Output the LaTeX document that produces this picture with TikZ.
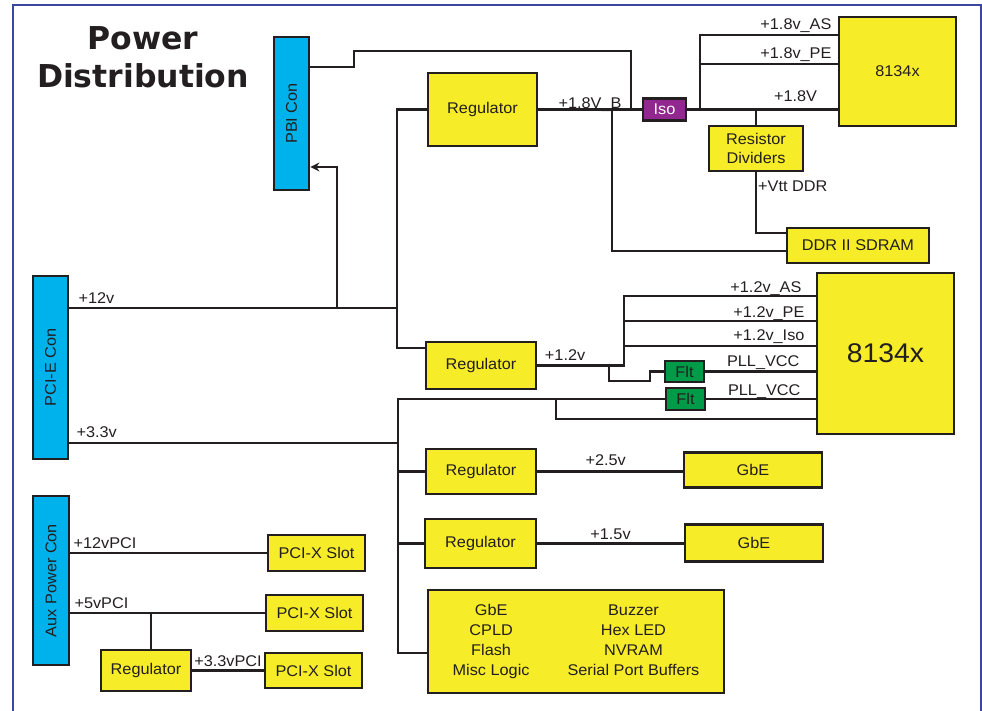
\documentclass[tikz,border=0pt]{standalone}
\usepackage{fontspec}
\setmainfont{Liberation Sans}[FakeStretch=1.05]
\newfontfamily\titlefont{DejaVu Sans}
\usetikzlibrary{arrows.meta}
\definecolor{ink}{RGB}{35,31,32}
\definecolor{chipyel}{RGB}{247,236,40}
\definecolor{conblue}{RGB}{0,178,236}
\definecolor{isopurple}{RGB}{146,39,143}
\definecolor{fltgreen}{RGB}{0,155,72}
\definecolor{framebl}{RGB}{58,70,160}
\tikzset{
  blk/.style={draw=ink, fill=chipyel, line width=2.8pt, inner sep=0pt, text=ink, align=center,
    font=\fontsize{15.5}{18.5}\selectfont},
  con/.style={blk, fill=conblue},
  wire/.style={draw=ink, line width=2.3pt},
  lbl/.style={inner sep=0pt, text=ink, font=\fontsize{15.5}{18.5}\selectfont},
}
\begin{document}
\begin{tikzpicture}[x=1pt, y=-1pt, >={Stealth[length=9pt,width=9pt]}]
\useasboundingbox (0,0) rectangle (982,711);
\draw[framebl, line width=2.5pt] (13,711) -- (13,5) -- (981,5) -- (981,711);
\node[font=\titlefont\bfseries\fontsize{31.5}{38}\selectfont, align=center, text=ink, inner sep=0pt]
  (title) at (143,57) {Power\\Distribution};
% connectors
\node[con, minimum width=35pt, minimum height=153pt] (pbi) at (291.5,113.5) {\rotatebox{90}{PBI Con}};
\node[con, minimum width=35pt, minimum height=183pt] (pcie) at (50.5,367.5) {\rotatebox{90}{PCI-E Con}};
\node[con, minimum width=36pt, minimum height=169pt] (aux) at (51,580.5) {\rotatebox{90}{Aux Power Con}};
% upper half
\node[blk, minimum width=109pt, minimum height=73pt] (regA) at (482.5,109.5) {Regulator};
\node[blk, fill=isopurple, text=white, minimum width=43pt, minimum height=22pt] (iso) at (664.5,109.5) {Iso};
\node[blk, minimum width=117pt, minimum height=109pt] (chipA) at (897.5,71.5) {8134x};
\node[blk, minimum width=94pt, minimum height=45pt] (div) at (756,148.5) {Resistor\\Dividers};
\node[blk, minimum width=142pt, minimum height=35pt] (ddr) at (858,245.5) {DDR II SDRAM};
\node[blk, minimum width=137pt, minimum height=161pt, font=\fontsize{27}{32}\selectfont] (chipB) at (885.5,353.5) {8134x};
\node[blk, minimum width=110pt, minimum height=47pt] (regB) at (481,365.5) {Regulator};
\node[blk, fill=fltgreen, minimum width=39pt, minimum height=21pt] (flt1) at (684.5,371.5) {Flt};
\node[blk, fill=fltgreen, minimum width=39pt, minimum height=22pt] (flt2) at (685.5,399) {Flt};
% lower half
\node[blk, minimum width=110pt, minimum height=45pt] (regC) at (481,471.5) {Regulator};
\node[blk, minimum width=138pt, minimum height=35pt] (gbeA) at (753,470) {GbE};
\node[blk, minimum width=111pt, minimum height=49pt] (regD) at (480.5,543.5) {Regulator};
\node[blk, minimum width=138pt, minimum height=37pt] (gbeB) at (754,543) {GbE};
\node[blk, minimum width=296pt, minimum height=103pt] (misc) at (576,641.5) {\renewcommand{\arraystretch}{1.08}%
  \raisebox{5pt}{\begin{tabular}{@{}c@{\hspace{38pt}}c@{}}
    GbE & Buzzer\\ CPLD & Hex LED\\ Flash & NVRAM\\ Misc Logic & Serial Port Buffers
  \end{tabular}}};
\node[blk, minimum width=97pt, minimum height=36pt] (slotA) at (316.5,553) {PCI-X Slot};
\node[blk, minimum width=97pt, minimum height=36pt] (slotB) at (314.5,613) {PCI-X Slot};
\node[blk, minimum width=97pt, minimum height=35pt] (slotC) at (313.5,670.5) {PCI-X Slot};
\node[blk, minimum width=90pt, minimum height=41pt] (regE) at (146,670.5) {Regulator};
% +12v
\coordinate (j12) at (397,308);
\coordinate (jpbi) at (337,308);
\draw[wire] ([yshift=59.5pt]pcie.east) -- node[lbl, pos=0, anchor=base west, xshift=8pt, yshift=5pt] {+12v} (j12);
\draw[wire, ->] (jpbi) |- ([yshift=-53.5pt]pbi.east);
\draw[wire] (regA.west) -| (j12) |- ([yshift=17.5pt]regB.west);
% +1.8V_B
\coordinate (pb) at (631,109.5);
\coordinate (ddrtap) at (612,109.5);
\draw[wire] (regA.east) -- node[lbl, pos=0.5, anchor=base, yshift=0.5pt] {+1.8V\_B} (iso.west);
\draw[wire] ([yshift=46.5pt]pbi.east) -| (354,51) -| (pb);
\draw[wire] (ddrtap) |- ([yshift=-5.5pt]ddr.west);
% +1.8V
\coordinate (r18) at (700,109.5);
\draw[wire] (iso.east) -- node[lbl, pos=0.72, anchor=base, yshift=7.5pt] {+1.8V} (iso.east -| chipA.west);
\draw[wire] ([yshift=36.5pt]chipA.west) -| node[lbl, pos=0, anchor=base east, xshift=-5pt, yshift=5pt] {+1.8v\_AS} (r18);
\draw[wire] ([yshift=7.5pt]chipA.west) -| node[lbl, pos=0, anchor=base east, xshift=-5pt, yshift=5pt] {+1.8v\_PE} (r18);
\draw[wire] (div.north) -- (div.north |- iso.east);
\draw[wire] (div.south) |- node[lbl, pos=0.16, anchor=base west, xshift=1pt] {+Vtt DDR} ([yshift=12.5pt]ddr.west);
% +1.2v
\coordinate (v12) at (624,365.5);
\coordinate (s12) at (609,365.5);
\draw[wire] (regB.east) -- node[lbl, pos=0.32, anchor=base, yshift=5.5pt] {+1.2v} (v12)
  |- node[lbl, pos=1, anchor=base east, xshift=-13pt, yshift=4pt] {+1.2v\_AS} ([yshift=57.5pt]chipB.west);
\draw[wire] ([yshift=32.5pt]chipB.west) -| node[lbl, pos=0, anchor=base east, xshift=-10pt, yshift=4pt] {+1.2v\_PE} (v12);
\draw[wire] ([yshift=7.5pt]chipB.west) -| node[lbl, pos=0, anchor=base east, xshift=-10pt, yshift=6pt] {+1.2v\_Iso} (v12);
\draw[wire] (s12) |- (650,381) |- (flt1.west);
\draw[wire] (flt1.east) -- (flt1.east -| chipB.west) node[lbl, anchor=base east, xshift=-15pt, yshift=5pt] {PLL\_VCC};
\draw[wire] (flt2.east) -- (flt2.east -| chipB.west) node[lbl, anchor=base east, xshift=-14pt, yshift=4pt] {PLL\_VCC};
% +3.3v
\coordinate (bus) at (398,653);
\coordinate (b33) at (398,443);
\coordinate (f2) at (556,399);
\draw[wire] (flt2.west) -| (bus) -- (bus -| misc.west);
\draw[wire] (f2) |- ([yshift=-65.5pt]chipB.west);
\draw[wire] ([yshift=-75.5pt]pcie.east) -- node[lbl, pos=0, anchor=base west, xshift=6pt, yshift=6pt] {+3.3v} (b33);
\draw[wire] (regC.west) -- (regC.west -| bus);
\draw[wire] (regD.west) -- (regD.west -| bus);
\draw[wire] (regC.east) -- node[lbl, pos=0.47, anchor=base, yshift=6pt] {+2.5v} (regC.east -| gbeA.west);
\draw[wire] (regD.east) -- node[lbl, pos=0.5, anchor=base, yshift=4pt] {+1.5v} (regD.east -| gbeB.west);
% aux
\coordinate (t5) at (151,613);
\draw[wire] ([yshift=27.5pt]aux.east) -- node[lbl, pos=0, anchor=base west, xshift=2pt, yshift=5pt] {+12vPCI} (slotA.west);
\draw[wire] ([yshift=-32.5pt]aux.east) -- node[lbl, pos=0, anchor=base west, xshift=3pt, yshift=5pt] {+5vPCI} (slotB.west);
\draw[wire] (t5) -- (t5 |- regE.north);
\draw[wire] (regE.east) -- node[lbl, pos=0.5, anchor=base, yshift=4pt] {+3.3vPCI} (slotC.west);
\end{tikzpicture}
\end{document}
